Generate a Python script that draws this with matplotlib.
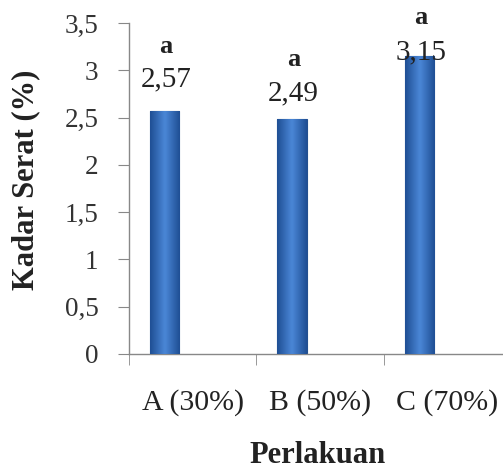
import matplotlib
matplotlib.use("Agg")
import matplotlib.pyplot as plt
import numpy as np
from matplotlib.colors import LinearSegmentedColormap

categories = ["A (30%)", "B (50%)", "C (70%)"]
values = [2.57, 2.49, 3.15]
value_labels = ["2,57", "2,49", "3,15"]
letters = ["a", "a", "a"]
yticks = [0, 0.5, 1, 1.5, 2, 2.5, 3, 3.5]
ytick_labels = ["0", "0,5", "1", "1,5", "2", "2,5", "3", "3,5"]
# manually placed label heights (data units), as in the reference
value_label_y = [2.90, 2.76, 3.19]
letter_y = [3.25, 3.11, 3.56]

plt.rcParams['font.family'] = ['Liberation Serif', 'DejaVu Serif']

fig = plt.figure(figsize=(5.03, 4.73), dpi=100)
ax = fig.add_axes([0.2565, 0.2516, 0.76, 0.6998])

x = np.arange(len(categories))
offset = -0.22
width = 0.23
bars = ax.bar(x + offset, values, width=width, color="#3A72C0",
              edgecolor="#23508f", linewidth=0.8, zorder=2)

# horizontal gradient on each bar
grad = np.concatenate([np.linspace(0, 1, 50), np.linspace(1, 0, 50)]).reshape(1, -1)
cmap = LinearSegmentedColormap.from_list("barg", ["#1f4f94", "#4a86d6"])
for b in bars:
    bx, by, bw, bh = b.get_x(), b.get_y(), b.get_width(), b.get_height()
    im = ax.imshow(grad, extent=[bx, bx + bw, by, by + bh], cmap=cmap,
                   aspect="auto", zorder=3, interpolation="bicubic")
    im.set_clip_path(b)

for i, b in enumerate(bars):
    cx = b.get_x() + b.get_width() / 2
    ax.text(cx + 0.01, value_label_y[i], value_labels[i], ha="center", va="center",
            fontsize=21, color="#222222", zorder=5)
    ax.text(cx + 0.01, letter_y[i], letters[i], ha="center", va="center",
            fontsize=19, fontweight="bold", color="#222222", zorder=5,
            clip_on=False)

ax.set_xlim(-0.5, 2.5)
ax.set_ylim(0, 3.5)
ax.set_yticks(yticks)
ax.set_yticklabels(ytick_labels, fontsize=19.5, color="#333333")
ax.set_xticks(x)
ax.set_xticklabels(categories, fontsize=21.5, color="#222222")
ax.set_xticks([-0.5, 0.5, 1.5, 2.5], minor=True)
ax.tick_params(axis="x", which="major", length=0, pad=25)
ax.tick_params(axis="x", which="minor", length=8, color="#888888", direction="out")
ax.tick_params(axis="y", which="major", length=8, color="#888888", direction="out", pad=14)

for s in ["top", "right"]:
    ax.spines[s].set_visible(False)
for s in ["left", "bottom"]:
    ax.spines[s].set_color("#888888")
    ax.spines[s].set_linewidth(1.0)

fig.text(0.052, 0.62, "Kadar Serat (%)", rotation=90, ha="center", va="center",
         fontsize=22, fontweight="bold", color="#222222")
fig.text(0.632, 0.038, "Perlakuan", ha="center", va="center",
         fontsize=22, fontweight="bold", color="#222222")

fig.savefig("out.png", dpi=100)
